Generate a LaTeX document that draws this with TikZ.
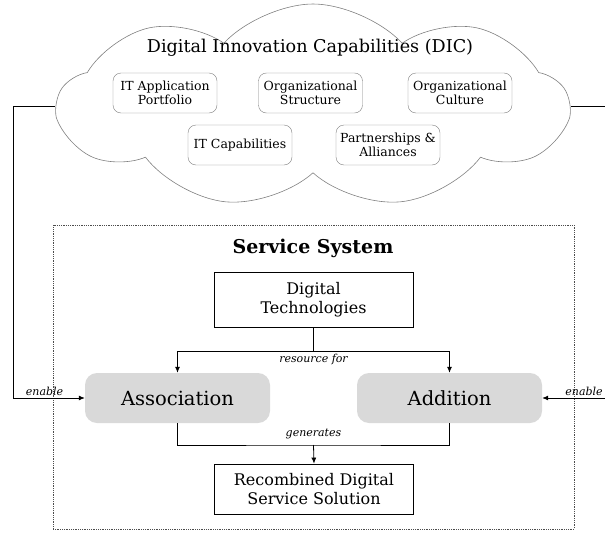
\documentclass[tikz,border=0pt]{standalone}
\usepackage{fontspec}
\setmainfont{DejaVu Serif}
\usetikzlibrary{shapes.symbols,arrows.meta}

\begin{document}
\begin{tikzpicture}[x=1pt, y=-1pt, >={Latex[length=6pt,width=5pt]},
    capbox/.style={draw=gray, rounded corners=8pt, minimum width=104pt, minimum height=40pt,
        inner sep=1pt, align=center, font=\fontsize{12.5}{14}\selectfont},
    mainbox/.style={draw, line width=0.8pt, minimum width=199pt, minimum height=55pt,
        align=center, font=\fontsize{16}{19}\selectfont},
    actbox/.style={fill=black!15, rounded corners=12pt, minimum width=185pt, minimum height=50pt,
        font=\fontsize{19.5}{22}\selectfont},
    lbl/.style={font=\itshape\fontsize{11}{13}\selectfont, inner sep=2pt}]
    \useasboundingbox (0,0) rectangle (605,538);

    % DIC cloud with its capabilities
    \node[cloud, draw=gray, line width=0.6pt, cloud puffs=9, cloud puff arc=95, aspect=2.6,
        minimum width=510pt, minimum height=204pt] (dic) at (313,106) {};
    \node[font=\fontsize{17.6}{20}\selectfont] (dictitle) at (310,48) {Digital Innovation Capabilities (DIC)};
    \node[capbox] (itapp) at (165,93) {IT Application\\Portfolio};
    \node[capbox] (orgstruct) at (310.5,93) {Organizational\\Structure};
    \node[capbox] (orgcult) at (460,93) {Organizational\\Culture};
    \node[capbox] (itcap) at (240,145) {IT Capabilities};
    \node[capbox] (partner) at (388,145) {Partnerships \&\\Alliances};

    % service system
    \node[draw=black!70, densely dotted, line width=0.8pt, minimum width=521pt, minimum height=304pt]
        (sys) at (313.5,377) {};
    \node[font=\bfseries\fontsize{19}{22}\selectfont] (systitle) at (313,248) {Service System};
    \node[mainbox] (tech) at (313.5,300) {Digital\\Technologies};
    \node[actbox] (assoc) at (177.5,398) {Association};
    \node[actbox] (add) at (449.5,398) {Addition};
    \node[mainbox, minimum height=50pt] (result) at (314,489) {Recombined Digital\\Service Solution};

    \coordinate (lx) at (13,0);
    \coordinate (rx) at (612,0);
    \coordinate (merge) at (313.5,445);

    \draw[line width=0.8pt] (tech.south) -- ++(0,23) coordinate (split)
        node[lbl, below=1pt] {resource for};
    \draw[->, line width=0.8pt] (split) -| (assoc.north);
    \draw[->, line width=0.8pt] (split) -| (add.north);
    \draw[line width=0.8pt] (assoc.south) |- (merge) -| (add.south);
    \draw[->, line width=0.8pt] (merge) -- (result.north);
    \node[lbl, above=4pt] (gen) at (merge) {generates};

    % enabling links from the cloud
    \draw[->, line width=0.8pt] (dic.west) -- (dic.west -| lx) |- (assoc.west)
        node[lbl, pos=0.72, above] {enable};
    \draw[->, line width=0.8pt] (dic.east) -- (dic.east -| rx) |- (add.east)
        node[lbl, pos=0.7, above] {enable};
\end{tikzpicture}
\end{document}
